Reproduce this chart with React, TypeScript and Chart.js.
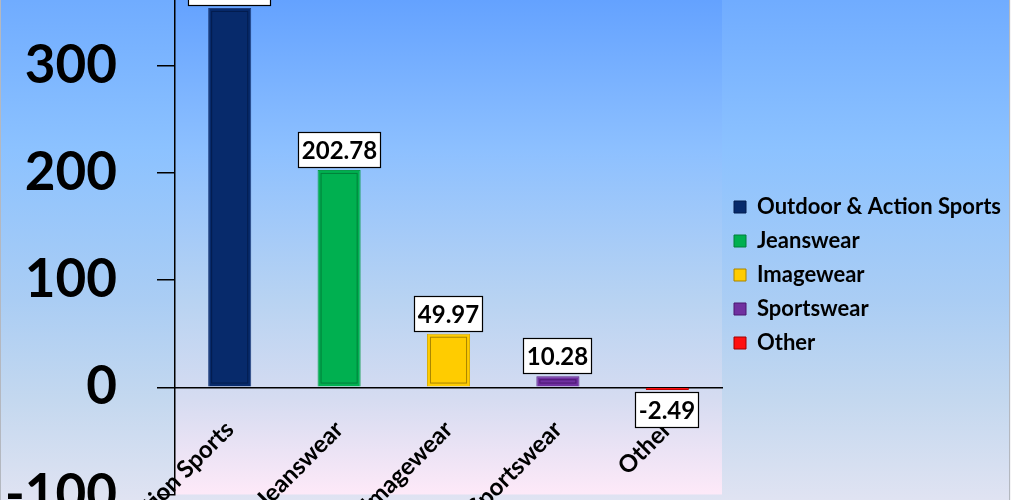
import React, { useEffect, useRef } from "react";
import { Chart, registerables } from "chart.js";

Chart.register(...registerables);

const categories = ["Outdoor & Action Sports", "Jeanswear", "Imagewear", "Sportswear", "Other"];
const values = [353.9, 202.78, 49.97, 10.28, -2.49];
const fillColors = ["#072A6B", "#00B050", "#FFCC00", "#7030A0", "#FF1010"];
const edgeColors = ["#1F3F7E", "#0A9C4A", "#D9AC00", "#5B2389", "#C00000"];
const innerColors = ["#031C4E", "#007F3A", "#A88400", "#4A1670", "#A00000"];
const yTicks = [-100, 0, 100, 200, 300, 400];

const W = 1011;
const H = 744;
const OFF = 150; // canvas top sits this far above the page top
const AXIS_X = 175; // left edge of the plot area on the page

const FONT = 'Lato, "Open Sans", sans-serif';

function pageGrad(ctx: CanvasRenderingContext2D, stops: [number, string][]) {
  const g = ctx.createLinearGradient(0, OFF + 0, 0, OFF + 500);
  stops.forEach(([p, c]) => g.addColorStop(Math.max(0, Math.min(1, p / 500)), c));
  return g;
}

const backgroundPlugin = {
  id: "bg",
  beforeDraw(chart: any) {
    const { ctx, chartArea } = chart;
    ctx.save();
    ctx.fillStyle = pageGrad(ctx, [
      [0, "#70ACFF"],
      [150, "#8CC2FF"],
      [300, "#AACDF4"],
      [400, "#C4D8EF"],
      [500, "#E0E3F2"],
    ]);
    ctx.fillRect(0, 0, W, H);
    ctx.fillStyle = pageGrad(ctx, [
      [0, "#64A2FF"],
      [150, "#8DC0FF"],
      [300, "#B8D3F2"],
      [400, "#D6DCF1"],
      [493, "#FDE9F8"],
    ]);
    ctx.fillRect(chartArea.left, chartArea.top, chartArea.right - chartArea.left, chartArea.bottom - chartArea.top);
    ctx.fillStyle = "#B4B8C0";
    ctx.fillRect(0, 0, 1, H);
    ctx.fillRect(1009, 0, 1, H);
    ctx.fillStyle = "#F4F4F6";
    ctx.fillRect(1010, 0, 1, H);
    ctx.restore();
  },
};

const bevelPlugin = {
  id: "bevel",
  afterDatasetsDraw(chart: any) {
    const { ctx } = chart;
    const meta = chart.getDatasetMeta(0);
    ctx.save();
    meta.data.forEach((bar: any, i: number) => {
      const { x, y, base, width } = bar.getProps(["x", "y", "base", "width"], true);
      const top = Math.min(y, base);
      const bottom = Math.max(y, base);
      const left = x - width / 2;
      const h = bottom - top;
      if (h > 8) {
        ctx.strokeStyle = innerColors[i];
        ctx.lineWidth = 1;
        ctx.strokeRect(left + 3.5, top + 3.5, width - 7, h - 7);
      }
    });
    ctx.restore();
  },
};

const labelPlugin = {
  id: "valueBoxes",
  afterDatasetsDraw(chart: any) {
    const { ctx } = chart;
    const meta = chart.getDatasetMeta(0);
    ctx.save();
    ctx.font = `bold 24px ${FONT}`;
    meta.data.forEach((bar: any, i: number) => {
      const v = values[i];
      const text = v.toFixed(2);
      const tw = ctx.measureText(text).width;
      const bw = Math.round(tw + 8);
      const bh = 36;
      const { x, y } = bar.getProps(["x", "y"], true);
      const left = Math.round(x - bw / 2);
      const top = v >= 0 ? Math.round(y - 2 - bh) : Math.round(y + 2);
      ctx.fillStyle = "#FFFFFF";
      ctx.fillRect(left, top, bw, bh);
      ctx.strokeStyle = "#000000";
      ctx.lineWidth = 1.2;
      ctx.strokeRect(left + 0.5, top + 0.5, bw - 1, bh - 1);
      ctx.fillStyle = "#000000";
      ctx.textAlign = "center";
      ctx.textBaseline = "middle";
      ctx.fillText(text, left + bw / 2, top + bh / 2 + 1);
    });
    ctx.restore();
  },
};

export default function App() {
  const ref = useRef<HTMLCanvasElement | null>(null);

  useEffect(() => {
    if (!ref.current) return;
    Chart.defaults.font.family = FONT;
    const chart = new Chart(ref.current, {
      type: "bar",
      data: {
        labels: categories,
        datasets: [
          {
            label: "Value",
            data: values,
            backgroundColor: fillColors,
            borderColor: edgeColors,
            borderWidth: 1,
            barPercentage: 0.4,
            categoryPercentage: 0.985,
          },
        ],
      },
      options: {
        responsive: false,
        animation: false,
        devicePixelRatio: 1,
        layout: { padding: { top: OFF - 41.5, bottom: H - (OFF + 494.5), left: 0, right: 0 } },
        scales: {
          x: {
            position: { y: 0 } as any,
            afterFit: (scale: any) => {
              scale.paddingLeft = 0;
              scale.paddingRight = 0;
            },
            grid: { display: false, drawTicks: false },
            border: { display: true, color: "#000000", width: 1.5 },
            ticks: {
              color: "#000000",
              font: { size: 24, weight: "bold" },
              minRotation: 45,
              maxRotation: 45,
              autoSkip: false,
              padding: 28,
            },
          },
          y: {
            min: -100,
            max: 400,
            afterBuildTicks: (axis: any) => {
              axis.ticks = yTicks.map((v) => ({ value: v }));
            },
            afterFit: (scale: any) => {
              scale.width = AXIS_X;
            },
            grid: { drawOnChartArea: false, drawTicks: true, tickLength: 18, color: "#000000", lineWidth: 1.5 },
            border: { display: true, color: "#000000", width: 1.5 },
            ticks: {
              color: "#000000",
              font: { size: 53, weight: "bold" },
              padding: 40,
            },
          },
        },
        plugins: {
          legend: {
            position: "right",
            align: "center",
            maxWidth: 330,
            title: { display: true, text: " ", padding: { top: 85, bottom: 0 }, font: { size: 10 } },
            onClick: () => {},
            labels: {
              boxWidth: 12,
              boxHeight: 12,
              padding: 12,
              color: "#000000",
              font: { size: 22, weight: "bold" },
              generateLabels: () =>
                categories.map((c, i) => ({
                  text: c,
                  fillStyle: fillColors[i],
                  strokeStyle: innerColors[i],
                  lineWidth: 1,
                  hidden: false,
                  index: i,
                  fontColor: "#000000",
                })),
            },
          },
          tooltip: { enabled: false },
        },
      },
      plugins: [backgroundPlugin, bevelPlugin, labelPlugin],
    });
    return () => chart.destroy();
  }, []);

  return (
    <div style={{ position: "fixed", left: 0, top: 0, width: W, height: 500, overflow: "hidden" }}>
      <canvas
        ref={ref}
        width={W}
        height={H}
        style={{ position: "absolute", left: 0, top: -OFF, width: W, height: H, display: "block" }}
      />
    </div>
  );
}
